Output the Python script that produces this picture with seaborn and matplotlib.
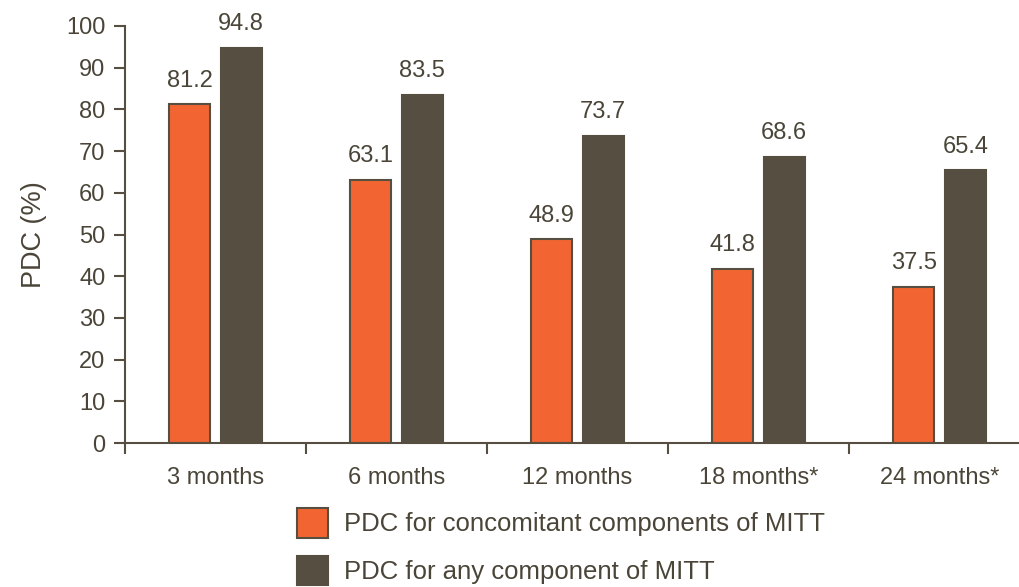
"""
Proportion of days covered (PDC) por periodo, barras agrupadas.
"""

import matplotlib
matplotlib.use("Agg")
import matplotlib.pyplot as plt
import seaborn as sns
import pandas as pd
from matplotlib.ticker import FixedLocator

# Datos
periods = ["3 months", "6 months", "12 months", "18 months*", "24 months*"]
pdc_concomitant = [81.2, 63.1, 48.9, 41.8, 37.5]
pdc_any = [94.8, 83.5, 73.7, 68.6, 65.4]
series_names = ["PDC for concomitant components of MITT",
                "PDC for any component of MITT"]

ORANGE = "#F26532"
DARK = "#564E41"
TEXT = "#4A4538"

df = pd.DataFrame({
    "period": periods * 2,
    "serie": [series_names[0]] * len(periods) + [series_names[1]] * len(periods),
    "pdc": pdc_concomitant + pdc_any,
})

sns.set_style("white")
plt.rcParams["font.family"] = ["Liberation Sans", "DejaVu Sans"]
plt.rcParams["text.color"] = TEXT
plt.rcParams["axes.labelcolor"] = TEXT
plt.rcParams["xtick.color"] = DARK
plt.rcParams["ytick.color"] = DARK

fig = plt.figure(figsize=(10.19, 5.87), dpi=100)
ax = fig.add_axes([125 / 1019, 1 - 443 / 587, 1 - 125 / 1019, (443 - 26) / 587])

sns.barplot(data=df, x="period", y="pdc", hue="serie", order=periods,
            hue_order=series_names, palette=[ORANGE, DARK], saturation=1,
            width=0.57, gap=0.2, edgecolor=DARK, linewidth=1.5, ax=ax, legend=True)

# Etiquetas de valores encima de cada barra
for container in ax.containers:
    ax.bar_label(container, fmt="%.1f", padding=9, fontsize=17, color=TEXT)

ax.set_ylim(0, 100)
ax.set_xlim(-0.5, (1019 - 215.5) / 181)
ax.set_yticks(range(0, 101, 10))
ax.tick_params(axis="y", labelsize=17, length=8, width=1.5, direction="out",
               labelcolor=TEXT, pad=6, left=True)
ax.tick_params(axis="x", which="major", labelsize=17, length=0, pad=17, labelcolor=TEXT)
ax.xaxis.set_minor_locator(FixedLocator([i - 0.5 for i in range(len(periods))]))
ax.tick_params(axis="x", which="minor", length=8, width=1.5, direction="out", bottom=True)

ax.set_xlabel("")
ax.set_ylabel("PDC (%)", fontsize=19.5, labelpad=14)

for side in ["top", "right"]:
    ax.spines[side].set_visible(False)
for side in ["left", "bottom"]:
    ax.spines[side].set_color(DARK)
    ax.spines[side].set_linewidth(1.5)

# Leyenda debajo del gráfico
handles, labels = ax.get_legend_handles_labels()
ax.get_legend().remove()
fig.legend(handles, labels, loc="upper left", bbox_to_anchor=(297 / 1019, 1 - 508 / 587),
           frameon=False, fontsize=18.5, handlelength=1.2, handleheight=1.4,
           handletextpad=0.62, labelspacing=0.7, borderpad=0, borderaxespad=0)

fig.savefig("out.png", dpi=100)
